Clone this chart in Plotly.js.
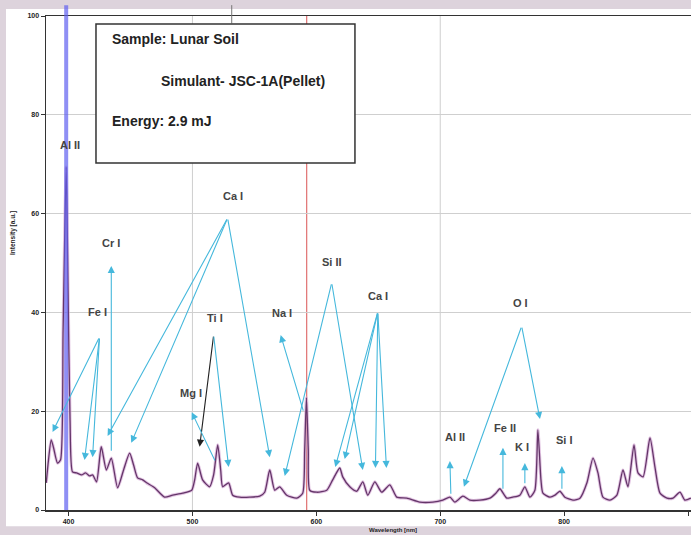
<!DOCTYPE html>
<html>
<head>
<meta charset="utf-8">
<script src="https://cdn.plot.ly/plotly-3.0.1.min.js"></script>
<style>html,body{margin:0;padding:0;background:#ddd3dc;}#chart{width:691px;height:535px;}</style>
</head>
<body>
<div id="chart"></div>
<script>
// Spectrum (wavelength in nm, intensity in a.u.)
const wavelength = [382.0,383.8,386.0,387.9,391.1,393.5,395.6,398.1,399.6,401.2,403.2,406.5,410.5,413.7,417.0,419.4,422.6,426.4,430.5,434.5,439.6,444.4,449.3,452.5,455.7,459.8,463.0,469.5,477.5,484.0,492.1,499.4,501.8,504.2,508.2,513.9,517.1,520.4,522.8,524.4,529.2,532.5,538.1,546.2,554.3,558.3,562.4,566.4,570.4,576.1,584.2,589.0,590.6,592.0,593.5,594.7,600.3,608.4,613.2,618.9,621.3,627.0,632.6,637.5,641.5,647.2,652.8,659.3,664.9,673.0,683.5,694.0,702.1,707.8,711.8,718.3,723.9,732.0,740.1,744.9,748.1,753.8,758.6,764.3,768.3,772.4,776.4,778.8,781.3,782.9,788.5,792.6,796.6,800.6,807.1,812.8,818.4,823.3,827.3,831.3,837.0,842.6,847.5,851.5,856.4,859.6,863.7,869.3,873.3,877.4,883.0,887.9,893.5,897.5,902.4];
const intensity = [5.5,10.1,14.2,12.6,9.5,10.1,36.4,69.4,44.5,18.2,7.7,7.5,7.1,7.5,6.9,7.1,5.7,12.8,8.1,10.5,4.5,8.1,11.5,9.1,6.5,6.1,5.5,4.5,2.6,3.0,3.4,4.0,6.1,9.5,6.1,4.7,7.1,13.2,8.1,4.7,5.5,3.0,2.6,2.6,2.8,3.6,8.1,4.0,4.7,3.0,2.4,3.4,12.1,22.7,12.1,4.0,3.6,4.0,6.1,8.5,6.7,4.7,3.8,5.7,3.0,5.7,3.6,5.1,2.6,2.4,1.6,1.6,2.0,2.6,1.6,2.8,2.0,2.0,2.4,3.4,4.3,2.4,2.6,3.0,4.7,2.6,4.0,16.2,6.1,3.4,2.6,3.0,3.8,2.6,2.0,2.4,5.5,10.5,7.5,2.6,2.0,3.0,8.1,4.7,13.2,7.5,6.7,14.6,8.7,3.4,2.4,2.4,3.6,2.0,2.4];

const xTickVals = [400,500,600,700,800,900];
const yTickVals = [0,20,40,60,80,100];
const xGridVals = [500,700];
const markerLines = [398.1, 592.2];   // highlighted lines (Al, Na)

// Peak labels
const labelText = ['Al II','Fe I','Cr I','Ca I','Ti I','Mg I','Na I','Si II','Ca I','Al II','O I','Fe II','K I','Si I'];
const labelX    = [400.8,423.4,433.9,532.5,517.9,498.5,572.1,612.4,649.6,711.8,765.1,752.2,765.9,800.6];
const labelY    = [73.9,40.1,54.0,63.6,38.9,23.7,39.9,50.2,43.3,14.8,41.9,16.6,12.8,14.2];

// Arrows: tail -> head
const arrowTailX = [425.0,425.0,425.0,434.5,528.4,528.4,528.4,517.1,517.1,518.7,589.8,612.4,612.4,649.6,649.6,649.6,649.6,708.6,765.7,765.7,750.6,768.3,798.2];
const arrowTailY = [35.0,35.0,35.0,11.7,59.1,59.1,59.1,35.4,35.4,9.7,19.8,46.0,46.0,40.1,40.1,40.1,40.1,3.0,37.2,37.2,4.0,5.1,4.0];
const arrowHeadX = [387.1,412.9,419.4,434.5,431.5,450.6,562.4,505.8,529.2,499.4,571.2,574.5,637.5,615.3,622.9,647.7,656.6,707.8,719.1,780.5,750.6,768.3,798.2];
const arrowHeadY = [15.8,10.1,10.7,49.4,15.0,13.6,10.7,12.8,8.7,19.8,35.4,6.9,8.1,8.7,10.3,8.5,8.5,9.9,4.7,18.4,12.6,9.5,8.9];
const arrowDark  = [0,0,0,0,0,0,0,1,0,0,0,0,0,0,0,0,0,0,0,0,0,0,0];

const legendLines = ['Sample: Lunar Soil','Simulant- JSC-1A(Pellet)','Energy: 2.9 mJ'];
const xTitle = 'Wavelength [nm]';
const yTitle = 'Intensity [a.u.]';

const traces = [
  {x: wavelength, y: intensity, type:'scatter', mode:'lines',
   line:{color:'rgba(210,165,210,0.65)', width:3.2, shape:'spline', smoothing:0.6}, hoverinfo:'skip'},
  {x: wavelength, y: intensity, type:'scatter', mode:'lines',
   line:{color:'#643569', width:1.3, shape:'spline', smoothing:0.6}}
];

const shapes = [];
shapes.push({type:'rect', xref:'paper', yref:'paper', x0:-0.062, x1:1.01, y0:-0.033, y1:1.014,
  fillcolor:'#ffffff', line:{width:0}, layer:'below'});
xGridVals.forEach(v => shapes.push({type:'line', xref:'x', yref:'paper', x0:v, x1:v, y0:0, y1:1,
  line:{color:'#cfcfcf', width:1}, layer:'below'}));
shapes.push({type:'line', xref:'x', yref:'paper', x0:markerLines[0], x1:markerLines[0], y0:0, y1:1.022,
  line:{color:'rgba(95,95,240,0.7)', width:4}, layer:'above'});
shapes.push({type:'line', xref:'x', yref:'paper', x0:markerLines[1], x1:markerLines[1], y0:0, y1:1,
  line:{color:'#e07070', width:1.2}, layer:'below'});
shapes.push({type:'line', xref:'x', yref:'paper', x0:531.7, x1:531.7, y0:0.985, y1:1.022,
  line:{color:'#777', width:1}, layer:'above'});
shapes.push({type:'rect', xref:'paper', yref:'paper', x0:0.0775, x1:0.479, y0:0.7024, y1:0.9838,
  fillcolor:'#ffffff', line:{color:'#333', width:1.5}, layer:'above'});

const annotations = [];
arrowTailX.forEach((tx,i) => annotations.push({
  x: arrowHeadX[i], y: arrowHeadY[i], ax: tx, ay: arrowTailY[i], axref:'x', ayref:'y', xref:'x', yref:'y',
  text:'', showarrow:true, arrowhead:2, arrowsize:1.3, arrowwidth:1.1, standoff:0, startstandoff:0,
  arrowcolor: arrowDark[i] ? '#222' : '#45b8dc'}));
labelText.forEach((t,i) => annotations.push({
  x: labelX[i], y: labelY[i], xref:'x', yref:'y', text:t, showarrow:false,
  font:{family:'Liberation Sans, Arial', size:11, color:'#444', weight:'bold'}}));
const legY = [0.953, 0.8684, 0.7874];
const legX = [0.0992, 0.1752, 0.0992];
legendLines.forEach((t,i) => annotations.push({
  x: legX[i], y: legY[i], xref:'paper', yref:'paper', xanchor:'left', yanchor:'middle', text:t, showarrow:false,
  font:{family:'Liberation Sans, Arial', size:14, color:'#222', weight:'bold'}}));
// axis titles placed where the reference has them
annotations.push({x:0.538, y:-0.0405, xref:'paper', yref:'paper', text:xTitle, showarrow:false,
  xanchor:'center', yanchor:'middle', font:{family:'Liberation Sans, Arial', size:6, color:'#222', weight:'bold'}});
annotations.push({x:-0.051, y:0.561, xref:'paper', yref:'paper', text:yTitle, showarrow:false, textangle:-90,
  xanchor:'center', yanchor:'middle', font:{family:'Liberation Sans, Arial', size:6.5, color:'#222', weight:'bold'}});

const layout = {
  width:691, height:535,
  margin:{l:46, r:0, t:16, b:25},
  paper_bgcolor:'#ddd3dc', plot_bgcolor:'rgba(0,0,0,0)',
  showlegend:false,
  xaxis:{range:[381.8,902.4], tickvals:xTickVals, ticktext:xTickVals.map(String), showgrid:false, zeroline:false,
    showline:true, linecolor:'#333', linewidth:1.5, mirror:true, ticks:'outside', ticklen:4, tickcolor:'#333',
    tickfont:{family:'Liberation Sans, Arial', size:7, color:'#222', weight:'bold'}},
  yaxis:{range:[0,100], tickvals:yTickVals, showgrid:true, gridcolor:'#cfcfcf', zeroline:false,
    showline:true, linecolor:'#333', linewidth:1.5, ticks:'outside', ticklen:4, tickcolor:'#333',
    tickfont:{family:'Liberation Sans, Arial', size:7, color:'#222', weight:'bold'}},
  shapes: shapes,
  annotations: annotations
};

Plotly.newPlot('chart', traces, layout, {displayModeBar:false, staticPlot:true});
</script>
</body>
</html>
